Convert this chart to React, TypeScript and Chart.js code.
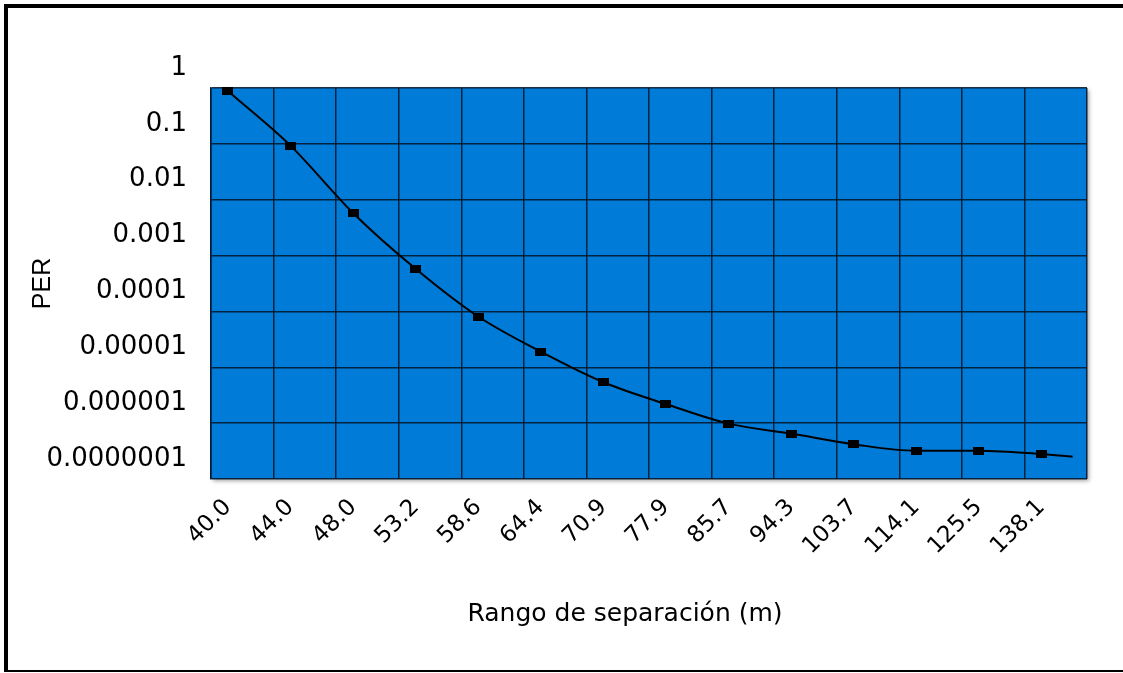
import { useEffect, useRef } from 'react';
import { Chart, registerables } from 'chart.js';

Chart.register(...registerables);

// ---- data ----
const categories = ['40.0', '44.0', '48.0', '53.2', '58.6', '64.4', '70.9', '77.9', '85.7', '94.3', '103.7', '114.1', '125.5', '138.1'];
const perValues = [0.88, 0.093, 0.0058, 0.00058, 0.000081, 0.000019, 0.0000054, 0.0000022, 0.00000098, 0.00000065, 0.00000042, 0.00000032, 0.00000032, 0.00000028];
const curveEndIndex = 13.5;
const curveEndPER = 0.00000025;
const yTickValues = [1, 0.1, 0.01, 0.001, 0.0001, 0.00001, 0.000001, 0.0000001];
const yTickLabels = ['1', '0.1', '0.01', '0.001', '0.0001', '0.00001', '0.000001', '0.0000001'];
const xAxisTitle = 'Rango de separación (m)';
const yAxisTitle = 'PER';

// ---- styles ----
const BLUE = 'rgb(0,123,216)';
const GRID = 'rgba(5,25,45,0.9)';

const plotBg = {
  id: 'plotBg',
  beforeDraw(chart: any) {
    const { ctx, chartArea: a } = chart;
    ctx.save();
    ctx.shadowColor = 'rgba(0,0,0,0.35)';
    ctx.shadowBlur = 4;
    ctx.shadowOffsetX = 2;
    ctx.shadowOffsetY = 2;
    ctx.fillStyle = BLUE;
    ctx.fillRect(a.left, a.top, a.width, a.height);
    ctx.restore();
  },
};

const xTitlePlugin = {
  id: 'xTitlePlugin',
  afterDraw(chart: any) {
    const { ctx, chartArea: a } = chart;
    ctx.save();
    ctx.font = '25px "DejaVu Sans"';
    ctx.fillStyle = '#000';
    ctx.textAlign = 'center';
    ctx.textBaseline = 'alphabetic';
    ctx.fillText(xAxisTitle, (a.left + a.right) / 2 - 24, a.bottom + 142);
    ctx.restore();
  },
};

export default function App() {
  const ref = useRef<HTMLCanvasElement | null>(null);

  useEffect(() => {
    const marker = document.createElement('canvas');
    marker.width = 11;
    marker.height = 8;
    const mctx = marker.getContext('2d')!;
    mctx.fillStyle = '#000';
    mctx.fillRect(0, 0, 11, 8);

    const points = perValues.map((v, i) => ({ x: i, y: v }));
    points.push({ x: curveEndIndex, y: curveEndPER });

    const chart = new Chart(ref.current!, {
      type: 'line',
      data: {
        datasets: [
          {
            data: points,
            borderColor: '#000',
            borderWidth: 2,
            cubicInterpolationMode: 'monotone',
            pointStyle: marker as any,
            pointRadius: (c: any) => (c.dataIndex < categories.length ? 5 : 0),
            pointHoverRadius: 0,
            fill: false,
            clip: 8,
          } as any,
        ],
      },
      options: {
        animation: false,
        responsive: true,
        maintainAspectRatio: false,
        events: [],
        layout: { padding: { top: 88, right: 36, left: 0, bottom: 0 } },
        plugins: {
          legend: { display: false },
          tooltip: { enabled: false },
        },
        scales: {
          x: {
            type: 'linear',
            position: 'bottom',
            min: -0.27,
            max: 13.73,
            afterBuildTicks: (s: any) => {
              s.ticks = categories.map((_, i) => ({ value: i }));
            },
            afterFit: (s: any) => {
              s.height = 194;
              s.paddingLeft = 0;
              s.paddingRight = 0;
            },
            ticks: {
              callback: (_v: any, i: number) => categories[i],
              autoSkip: false,
              minRotation: 45,
              maxRotation: 45,
              padding: 15,
              color: '#000',
              font: { family: '"DejaVu Sans"', size: 23 },
            },
            grid: { display: false, drawTicks: false },
            border: { display: false },
          },
          xGrid: {
            type: 'category',
            labels: categories,
            position: 'bottom',
            offset: true,
            afterFit: (s: any) => {
              s.height = 0;
              s.paddingLeft = 0;
              s.paddingRight = 0;
            },
            ticks: { display: false },
            grid: { offset: true, color: GRID, lineWidth: 1.5, drawTicks: false },
            border: { display: false },
          },
          y: {
            type: 'logarithmic',
            min: 0.0000001,
            max: 1,
            afterBuildTicks: (s: any) => {
              s.ticks = yTickValues.map((v) => ({ value: v }));
            },
            afterFit: (s: any) => {
              s.width = 211;
              s.paddingTop = 0;
              s.paddingBottom = 0;
            },
            ticks: {
              callback: (_v: any, i: number) => yTickLabels[i],
              autoSkip: false,
              padding: 24,
              labelOffset: -20,
              color: '#000',
              font: { family: '"DejaVu Sans"', size: 26 },
            },
            grid: { color: GRID, lineWidth: 1.5, drawTicks: false },
            border: { display: true, color: GRID, width: 1.5 },
            title: {
              display: true,
              text: yAxisTitle,
              color: '#000',
              font: { family: '"Liberation Sans"', size: 25 },
              padding: { top: 28, bottom: 0 },
            },
          },
        },
      } as any,
      plugins: [plotBg, xTitlePlugin],
    });
    return () => chart.destroy();
  }, []);

  return (
    <>
      <div style={{ position: 'fixed', left: 0, top: 0, width: 1123, height: 673, background: '#fff' }}>
        <canvas ref={ref} />
      </div>
      <div
        style={{
          position: 'fixed',
          left: 4,
          top: 4,
          width: 1119,
          height: 668,
          boxSizing: 'border-box',
          borderTop: '4px solid #000',
          borderLeft: '4px solid #000',
          borderBottom: '2px solid #000',
          pointerEvents: 'none',
        }}
      />
    </>
  );
}
